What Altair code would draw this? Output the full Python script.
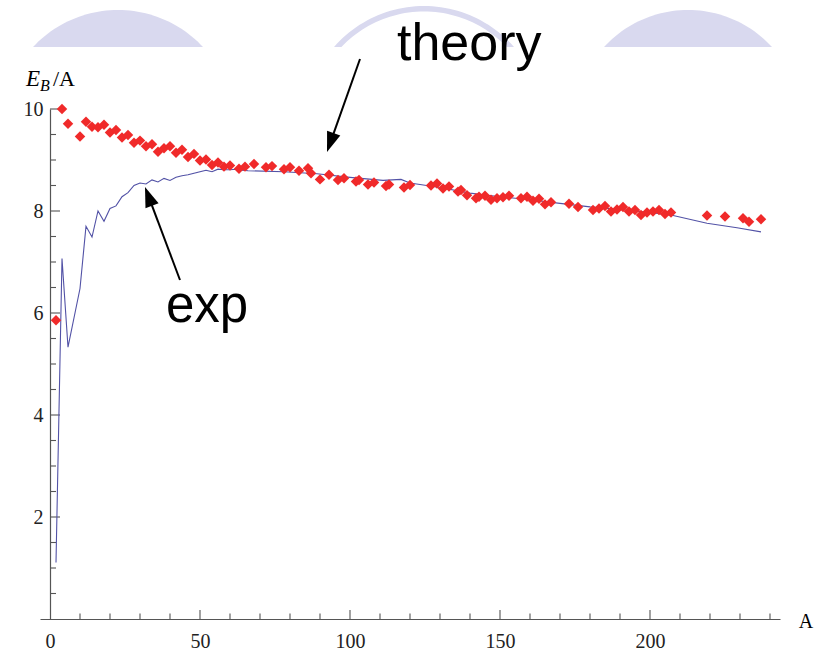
import math
import altair as alt
import pandas as pd

# ---------------- data ----------------
theory_A = [2, 4, 6, 10, 12, 14, 16, 18, 20, 22, 24, 26, 28, 30, 32, 34, 36, 38, 40,
            42, 44, 46, 48, 50, 52, 54, 56, 58, 60, 63, 65, 68, 72, 74, 78, 80, 83,
            86, 87, 90, 93, 96, 98, 102, 103, 106, 108, 112, 113, 118, 120, 127, 129,
            131, 133, 136, 137, 139, 142, 143, 145, 147, 149, 151, 153, 157, 159, 161,
            163, 165, 167, 173, 176, 181, 183, 185, 187, 189, 191, 193, 195, 197, 199,
            201, 203, 205, 207, 219, 225, 231, 233, 237]
theory_E = [5.86, 10.0, 9.71, 9.46, 9.75, 9.65, 9.64, 9.69, 9.54, 9.59, 9.44, 9.49, 9.34,
            9.38, 9.27, 9.31, 9.16, 9.23, 9.27, 9.14, 9.20, 9.06, 9.12, 8.99, 9.01, 8.90,
            8.95, 8.87, 8.89, 8.83, 8.87, 8.92, 8.86, 8.88, 8.82, 8.86, 8.79, 8.84, 8.74,
            8.62, 8.71, 8.61, 8.64, 8.58, 8.61, 8.52, 8.56, 8.49, 8.52, 8.46, 8.51, 8.50,
            8.54, 8.44, 8.48, 8.38, 8.41, 8.31, 8.25, 8.28, 8.30, 8.22, 8.25, 8.27, 8.30,
            8.25, 8.28, 8.20, 8.24, 8.13, 8.17, 8.14, 8.08, 8.02, 8.05, 8.10, 7.99, 8.03,
            8.08, 7.99, 8.02, 7.92, 7.97, 7.99, 8.02, 7.94, 7.97, 7.91, 7.89, 7.86, 7.79,
            7.84]

exp_A = [2, 4, 6, 10, 12, 14, 16, 18, 20, 22, 24, 26, 28, 30, 32, 34, 36, 38, 40, 42,
         44, 46, 48, 50, 52, 54, 56, 58, 60, 62, 64, 66, 78, 89, 100, 111, 117, 120,
         130, 140, 150, 160, 170, 180, 190, 200, 207, 219, 229, 237]
exp_E = [1.11, 7.07, 5.33, 6.48, 7.70, 7.49, 8.00, 7.80, 8.05, 8.10, 8.28, 8.36, 8.50,
         8.55, 8.53, 8.61, 8.57, 8.64, 8.60, 8.66, 8.69, 8.71, 8.74, 8.77, 8.80, 8.77,
         8.82, 8.81, 8.81, 8.82, 8.80, 8.79, 8.77, 8.73, 8.66, 8.60, 8.62, 8.55, 8.46,
         8.35, 8.28, 8.22, 8.15, 8.08, 8.03, 7.97, 7.92, 7.76, 7.67, 7.59]

x_labels = [0, 50, 100, 150, 200]
y_labels = [2, 4, 6, 8, 10]
x_major = [50, 100, 150, 200]
x_minor = [10, 20, 30, 40, 60, 70, 80, 90, 110, 120, 130, 140, 160, 170, 180, 190,
           210, 220, 230, 240]
y_major = [2, 4, 6, 8, 10]
y_minor = [0.5, 1, 1.5, 2.5, 3, 3.5, 4.5, 5, 5.5, 6.5, 7, 7.5, 8.5, 9, 9.5]

# ---------------- layout ----------------
OX, OY = 40, 109          # plot-area origin on the page
W, H = 740, 510
AX = 10                    # pixel position of A = 0 inside the plot
AXIS_COL = "#555555"
LAB_COL = "#222222"
SERIF = "Liberation Serif"
SANS = "Liberation Sans"
DECO = "#d9d9ef"

xs = alt.Scale(domain=[-AX / 3, (W - AX) / 3], nice=False, zero=False)
ys = alt.Scale(domain=[0, 10], nice=False, zero=False)

xax = alt.Axis(values=x_labels, title=None, ticks=False, grid=False, domainColor=AXIS_COL,
               domainWidth=1.2, labelFont=SERIF, labelFontSize=20, labelColor=LAB_COL,
               labelPadding=12, labelFlush=False, format="d")
yax = alt.Axis(values=y_labels, title=None, ticks=False, grid=False, domainColor=AXIS_COL,
               domainWidth=1.2, offset=-AX, labelFont=SERIF, labelFontSize=20,
               labelColor=LAB_COL, labelPadding=7, labelFlush=False, format="d")


def X(field="A"):
    return alt.X(f"{field}:Q", scale=xs, axis=xax, title=None)


def Y(field="E"):
    return alt.Y(f"{field}:Q", scale=ys, axis=yax, title=None)


exp_df = pd.DataFrame({"A": exp_A, "E": exp_E})
th_df = pd.DataFrame({"A": theory_A, "E": theory_E})
one = pd.DataFrame({"k": [0]})

line = alt.Chart(exp_df).mark_line(color="#5252a6", strokeWidth=1.1).encode(x=X(), y=Y())

pts = alt.Chart(th_df).mark_point(shape="diamond", filled=True, size=110,
                                  fill="#f02a2a", opacity=1, strokeWidth=0).encode(
    x=X(), y=Y())


def xticks(vals, L):
    return alt.Chart(pd.DataFrame({"A": vals})).mark_rule(
        color=AXIS_COL, strokeWidth=1.1).encode(
        x=X(), y=alt.value(H), y2=alt.value(H - L))


def yticks(vals, L):
    return alt.Chart(pd.DataFrame({"E": vals})).mark_rule(
        color=AXIS_COL, strokeWidth=1.1).encode(
        y=Y(), x=alt.value(AX), x2=alt.value(AX + L))


# ---------------- decorations (slide background shapes) ----------------
def seg_path(half, top_h, n=48):
    """circular segment: chord of half-width `half` at y=0, apex at y=-top_h"""
    R = (half * half + top_h * top_h) / (2 * top_h)
    cy = R - top_h
    p0 = math.asin(half / R)
    pts_ = []
    for i in range(n + 1):
        p = -p0 + 2 * p0 * i / n
        pts_.append((R * math.sin(p) / half, (cy - R * math.cos(p)) / half))
    return "M" + "L".join(f"{x:.4f},{y:.4f}" for x, y in pts_) + "Z"


def ring_path(half, top_h, thick, n=48):
    Ro = (half * half + top_h * top_h) / (2 * top_h)
    cy = Ro - top_h
    Ri = Ro - thick
    hi = math.sqrt(Ri * Ri - cy * cy)
    po = math.asin(half / Ro)
    pi_ = math.asin(hi / Ri)
    outer = [(Ro * math.sin(-po + 2 * po * i / n), cy - Ro * math.cos(-po + 2 * po * i / n))
             for i in range(n + 1)]
    inner = [(Ri * math.sin(pi_ - 2 * pi_ * i / n), cy - Ri * math.cos(pi_ - 2 * pi_ * i / n))
             for i in range(n + 1)]
    allp = [(x / half, y / half) for x, y in outer + inner]
    return "M" + "L".join(f"{x:.4f},{y:.4f}" for x, y in allp) + "Z"


def symbol(shape, scale_half, cx, cy, color, angle=0):
    return alt.Chart(one).mark_point(
        shape=shape, size=(2 * scale_half) ** 2, filled=True, fill=color, opacity=1,
        strokeWidth=0, angle=angle).encode(x=alt.value(cx - OX), y=alt.value(cy - OY))


left_seg = symbol(seg_path(85, 37), 85, 118, 47, DECO)
right_seg = symbol(seg_path(84, 37), 84, 688, 47, DECO)
mid_ring = symbol(ring_path(90, 41, 5.5), 90, 424, 47, DECO)


def text(t, x, y, size, font, style="normal", align="left", baseline="alphabetic"):
    return alt.Chart(one).mark_text(
        text=t, font=font, fontSize=size, fontStyle=style, align=align,
        baseline=baseline, color="#000000").encode(
        x=alt.value(x - OX), y=alt.value(y - OY))


def arrow(tail, tip, head_len=20, head_w=14):
    dx, dy = tip[0] - tail[0], tip[1] - tail[1]
    d = math.hypot(dx, dy)
    ux, uy = dx / d, dy / d
    r = head_len / 2
    cx, cy = tip[0] - r * ux, tip[1] - r * uy
    ang = math.degrees(math.atan2(ux, -uy)) % 360
    hw = head_w / 2 / r
    shaft = alt.Chart(one).mark_rule(color="#000000", strokeWidth=2).encode(
        x=alt.value(tail[0] - OX), y=alt.value(tail[1] - OY),
        x2=alt.value(cx - OX), y2=alt.value(cy - OY))
    head = symbol(f"M0,-1L{hw:.3f},1L{-hw:.3f},1Z", r, cx, cy, "#000000", ang)
    return [shaft, head]


layers = [left_seg, right_seg, mid_ring,
          xticks(x_major, 9), xticks(x_minor, 5.5),
          yticks(y_major, 10), yticks(y_minor, 6),
          line, pts,
          text("theory", 397, 60, 52, SANS),
          text("exp", 166, 322, 51, SANS),
          text("E", 26, 86, 23, SERIF, "italic"),
          text("B", 40, 91, 16, SERIF, "italic"),
          text("/A", 53, 86, 22, SERIF),
          text("A", 806, 628, 20, SERIF, align="center"),
          ] + arrow((360, 59), (327, 152)) + arrow((180, 280), (145, 187))

chart = alt.layer(*layers).properties(
    width=W, height=H,
    autosize=alt.AutoSizeParams(type="none"),
    padding={"left": OX, "top": OY, "right": 821 - OX - W, "bottom": 654 - OY - H},
    background="white",
).configure_view(stroke=None)

chart.save("out.html", embed_options={"renderer": "svg", "actions": False})
